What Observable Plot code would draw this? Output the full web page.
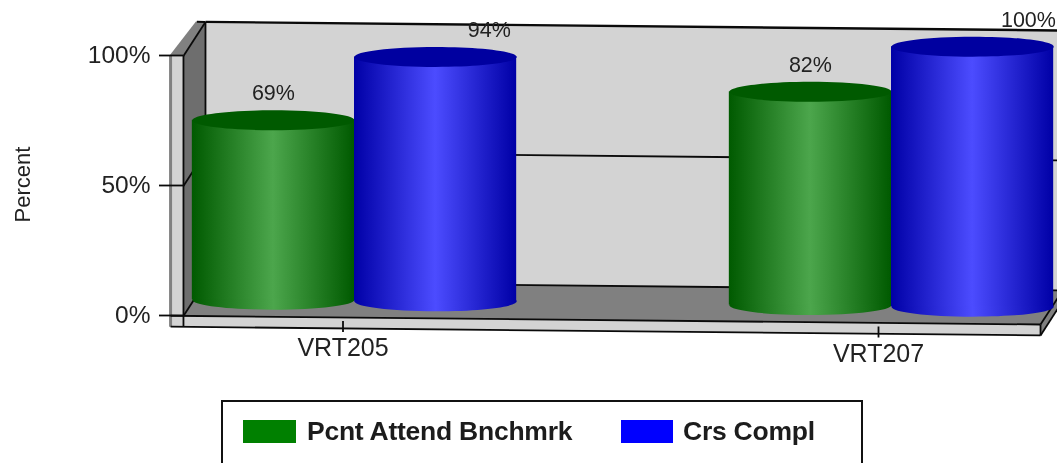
<!DOCTYPE html>
<html>
<head>
<meta charset="utf-8">
<script src="https://cdn.jsdelivr.net/npm/d3@7"></script>
<script src="https://cdn.jsdelivr.net/npm/@observablehq/plot@0.6"></script>
<style>
  html, body { margin: 0; padding: 0; background: #fff; overflow: hidden; width: 1057px; height: 463px; }
  body { font-family: "Liberation Sans", Arial, sans-serif; color: #1c1c1c; }
  #chart svg { display: block; filter: blur(0.35px); }
  #legend { position: absolute; left: 221px; top: 400px; width: 638px; height: 70px; border: 2px solid #111; box-sizing: content-box; filter: blur(0.35px); }
  .sw { position: absolute; top: 18px; height: 23px; }
  .lb { position: absolute; top: 14px; font-size: 26.5px; letter-spacing: -0.25px; font-weight: bold; line-height: 30px; white-space: nowrap; }
</style>
</head>
<body>
<div id="chart"></div>
<div id="legend"></div>
<script>
const groups = ["VRT205", "VRT207"];
const seriesNames = ["Pcnt Attend Bnchmrk", "Crs Compl"];
const pcntAttend = [69, 82];
const crsCompl = [94, 100];
const yTicks = [0, 50, 100];
const seriesColors = ["#008000", "#0000ff"];

// Layout in data units: x = group index, y = percent
const barHalf = 0.151;
const uLeft = -0.298, uRight = 1.298, uOuter = -0.322;
const slab = -4.2;
const depthX = 0.0205, depthY = 6.54, tilt = 2.07;
const at = (u, v, d = 0) => ({x: u + depthX * d, y: v + depthY * d - tilt * u});

const pxPerUnit = 537;
const ellipse = {
  draw(ctx) {
    const rx = barHalf * pxPerUnit, ry = 10, k = 0.5523;
    ctx.moveTo(-rx, 0);
    ctx.bezierCurveTo(-rx, -ry * k, -rx * k, -ry, 0, -ry);
    ctx.bezierCurveTo(rx * k, -ry, rx, -ry * k, rx, 0);
    ctx.bezierCurveTo(rx, ry * k, rx * k, ry, 0, ry);
    ctx.bezierCurveTo(-rx * k, ry, -rx, ry * k, -rx, 0);
    ctx.closePath();
  }
};

const poly = (pts, fill) => Plot.line(pts.map(p => at(...p)), {x: "x", y: "y", fill, stroke: "none"});
const edge = (a, b, w = 1.8, stroke = "#0a0a0a") => {
  const p = at(...a), q = at(...b);
  return Plot.link([0], {x1: () => p.x, y1: () => p.y, x2: () => q.x, y2: () => q.y, stroke, strokeWidth: w});
};

const defs = () => {
  const ns = "http://www.w3.org/2000/svg";
  const d = document.createElementNS(ns, "defs");
  [["gradG", "#005a00", "#4ca64c"], ["gradB", "#0000a6", "#4c4cff"]].forEach(([id, a, b]) => {
    const g = document.createElementNS(ns, "linearGradient");
    g.setAttribute("id", id);
    [[0, a], [0.5, b], [1, a]].forEach(([o, c]) => {
      const s = document.createElementNS(ns, "stop");
      s.setAttribute("offset", o);
      s.setAttribute("stop-color", c);
      g.appendChild(s);
    });
    d.appendChild(g);
  });
  return d;
};

const cylinders = (values, offset, grad, cap, labelShift) => {
  const rows = values.map((v, i) => ({u: i + offset, v, label: v + "%", shift: labelShift[i]}));
  return {
    body: [
      Plot.dot(rows, {x: "u", y: d => at(d.u, 0).y, symbol: ellipse, fill: `url(#${grad})`}),
      Plot.rect(rows, {x1: d => d.u - barHalf, x2: d => d.u + barHalf, y1: d => at(d.u, 0).y, y2: d => at(d.u, d.v).y, fill: `url(#${grad})`, inset: 0}),
      Plot.dot(rows, {x: "u", y: d => at(d.u, d.v).y, symbol: ellipse, fill: cap})
    ],
    label: Plot.text(rows, {x: d => d.u + d.shift, y: d => at(d.u, d.v).y, text: "label", dy: -27, fontSize: 21.5, fill: "#222"})
  };
};

const green = cylinders(pcntAttend, -barHalf, "gradG", "#005a00", [0, 0]);
const blue = cylinders(crsCompl, barHalf, "gradB", "#0000a0", [0.1, 0.104]);

const xAxisFor = i => Plot.axisX({
  ticks: [i], tickFormat: d => groups[d], anchor: "bottom",
  tickSize: 11, tickPadding: 6, dx: i ? -13 : -11.5, dy: i ? 5.5 : 0, fontSize: 25, label: null, strokeWidth: 1.8, stroke: "#0a0a0a", fill: "#222"
});

const chart = Plot.plot({
  width: 1057, height: 400,
  marginLeft: 183, marginRight: 0, marginTop: 0, marginBottom: 79,
  style: {fontFamily: '"Liberation Sans", Arial, sans-serif', background: "#fff", color: "#222"},
  x: {domain: [0, 1], range: [354, 891], axis: null},
  y: {domain: [0, 100], range: [300, 40], axis: null},
  marks: [
    defs,
    // back wall
    poly([[uLeft, 0, 1], [uRight, 0, 1], [uRight, 100, 1], [uLeft, 100, 1]], "#d3d3d3"),
    // floor
    poly([[uLeft, 0, -1], [uLeft, 0, 1], [uRight, 0, 1], [uRight, 0, -1]], "#808080"),
    // left wall
    poly([[uLeft, 0, -1], [uLeft, 100, -1], [uLeft, 100, 1], [uLeft, 0, 1]], "#6e6e6e"),
    // left wall top bevel
    poly([[uOuter, 100, -1], [uLeft, 100, -1], [uLeft, 100, 1], [uOuter + 0.008, 100, 1]], "#808080"),
    // left slab face
    poly([[uOuter, slab, -1], [uLeft, slab, -1], [uLeft, 100, -1], [uOuter, 100, -1]], "#d3d3d3"),
    // floor slab front
    poly([[uOuter, slab, -1], [uRight, slab, -1], [uRight, 0, -1], [uOuter, 0, -1]], "#d3d3d3"),
    // floor slab right side
    poly([[uRight, slab, -1], [uRight, slab, 1], [uRight, 0, 1], [uRight, 0, -1]], "#808080"),
    // outer grey edge
    edge([uOuter, slab, -1], [uOuter, 100, -1], 3, "#808080"),
    edge([uOuter, 100, -1], [uOuter + 0.008, 100, 1], 2, "#808080"),
    // gridlines and edges
    ...yTicks.map(v => edge([uLeft, v, 1], [uRight, v, 1], v === 100 ? 2.4 : 1.8)),
    ...yTicks.map(v => edge([uLeft, v, -1], [uLeft, v, 1])),
    edge([uOuter + 0.008, 100, 1], [uLeft, 100, 1], 2),
    edge([uLeft, 0, 1], [uLeft, 100, 1]),
    edge([uLeft, slab, -1], [uLeft, 100, -1]),
    edge([uOuter, 0, -1], [uRight, 0, -1]),
    edge([uOuter, slab, -1], [uRight, slab, -1]),
    edge([uRight, slab, -1], [uRight, 0, -1]),
    edge([uRight, slab, -1], [uRight, slab, 1]),
    edge([uRight, 0, -1], [uRight, 0, 1]),
    // axes
    Plot.axisY({ticks: yTicks, tickFormat: d => d + "%", anchor: "left", tickSize: 24, tickPadding: 9, dy: 15, fontSize: 24.5, label: null, strokeWidth: 1.8, stroke: "#0a0a0a", fill: "#222"}),
    ...groups.map((_, i) => xAxisFor(i)),
    Plot.text(["Percent"], {x: -0.618, y: 44.6, rotate: -90, fontSize: 22, fill: "#222"}),
    // cylinders
    ...green.body, ...blue.body,
    green.label, blue.label
  ]
});
document.getElementById("chart").appendChild(chart);

const legend = document.getElementById("legend");
[[20, 53, 84], [398, 52, 460]].forEach(([sx, sw, lx], i) => {
  const s = document.createElement("div");
  s.className = "sw";
  s.style.left = sx + "px"; s.style.width = sw + "px"; s.style.background = seriesColors[i];
  const l = document.createElement("div");
  l.className = "lb";
  l.style.left = lx + "px"; l.textContent = seriesNames[i];
  legend.append(s, l);
});
</script>
</body>
</html>
